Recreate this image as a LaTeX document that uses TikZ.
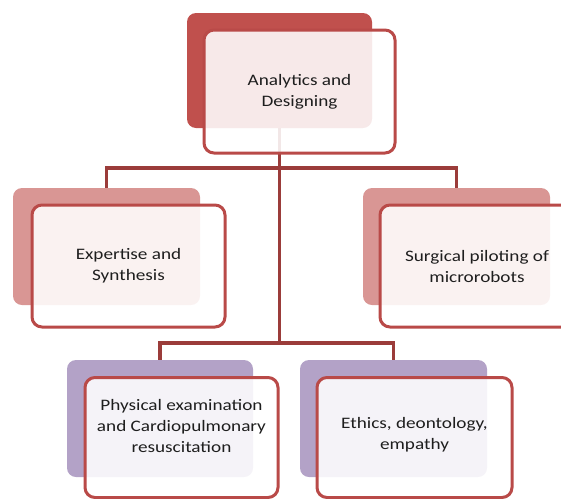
\documentclass[tikz,border=0pt]{standalone}
\usepackage{fontspec}
\setmainfont{Carlito}[FakeStretch=1.2]
\definecolor{topred}{HTML}{C0504D}
\definecolor{midred}{HTML}{D99694}
\definecolor{lav}{HTML}{B3A2C7}
\definecolor{edge}{HTML}{B94A48}
\definecolor{conn}{HTML}{9B3C3A}
\definecolor{txt}{HTML}{1E1E1E}
\tikzset{
  backbox/.style={rectangle, rounded corners=9pt, draw=none, inner sep=0pt},
  frontbox/.style={rectangle, rounded corners=10pt, draw=edge, line width=3pt,
    fill=white, fill opacity=0.88, text opacity=1, text=txt, align=center,
    inner sep=0pt, font=\fontsize{16}{21}\selectfont},
  boxtext/.style={text=txt, align=center, inner sep=0pt, font=\fontsize{16}{21}\selectfont},
  connector/.style={draw=conn, line width=3.8pt}
}
\begin{document}
\begin{tikzpicture}[x=1pt,y=-1pt]
\useasboundingbox (0,0) rectangle (561,498);
\clip (0,0) rectangle (561,498);
% back boxes
\node[backbox, fill=topred, minimum width=185pt, minimum height=115pt] (tb) at (279.5,70.5) {};
\node[backbox, fill=midred, minimum width=187pt, minimum height=117pt] (lb) at (106.5,246.5) {};
\node[backbox, fill=midred, minimum width=187pt, minimum height=117pt] (rb) at (456.5,246.5) {};
\node[backbox, fill=lav, minimum width=186pt, minimum height=117pt] (blb) at (160,418.5) {};
\node[backbox, fill=lav, minimum width=187pt, minimum height=117pt] (brb) at (393.5,418.5) {};
% connectors
\coordinate (j1) at (279.5,168);
\coordinate (j2) at (279.5,343);
\draw[connector] (tb.south) -- (j2);
\draw[connector] (lb.north) |- (j1) -| (rb.north);
\draw[connector] (blb.north) |- (j2) -| (brb.north);
% front boxes
\node[frontbox, minimum width=191pt, minimum height=123pt] (tf) at (299.5,91.5) {Analytics and\\Designing};
\node[frontbox, minimum width=193pt, minimum height=122pt] (lf) at (128.5,266) {Expertise and\\Synthesis};
\node[frontbox, minimum width=194pt, minimum height=122pt] (rf) at (477,266) {Surgical piloting of\\microrobots};
\node[frontbox, minimum width=193pt, minimum height=120pt] (blf) at (181.5,437.5) {};
\node[boxtext] (blt) at ([yshift=12pt]blf.center) {Physical examination\\and Cardiopulmonary\\resuscitation};
\node[frontbox, minimum width=195pt, minimum height=120pt] (brf) at (414.5,437.5) {};
\node[boxtext] (brt) at ([yshift=3pt]brf.center) {Ethics, deontology,\\empathy};
\end{tikzpicture}
\end{document}
